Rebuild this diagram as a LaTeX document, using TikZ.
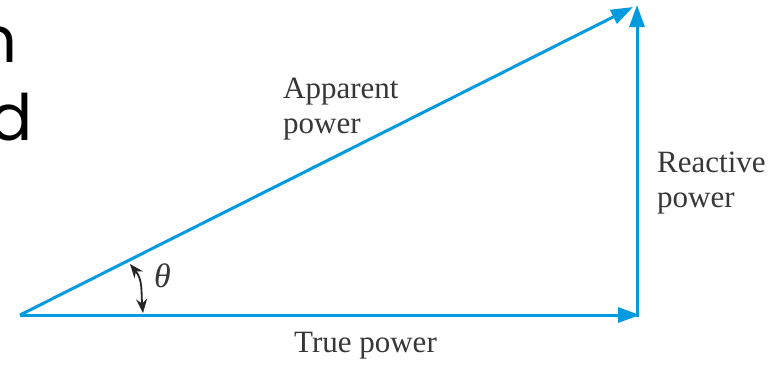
\documentclass[tikz,border=0pt]{standalone}
\usepackage{fontspec}
\setmainfont{Liberation Serif}
\newfontfamily\popfont{Poppins}
\usetikzlibrary{arrows.meta}
\definecolor{vecblue}{RGB}{0,155,222}
\definecolor{labgray}{RGB}{55,55,55}
\begin{document}
\begin{tikzpicture}[x=1pt,y=-1pt,
  vec/.style={draw=vecblue,line width=3pt,-{Triangle[length=22pt,width=15pt]}},
  anglearr/.style={draw=black!85,line width=1.8pt,{Stealth[length=14pt,width=11pt]}-{Stealth[length=14pt,width=11pt]}},
  lab/.style={inner sep=0pt,text=labgray,font=\fontsize{31}{35}\selectfont,align=left},
  big/.style={inner sep=0pt,text=black,font=\popfont\fontsize{64}{64}\selectfont}]
\useasboundingbox (0,0) rectangle (780,368);
\clip (0,0) rectangle (780,368);
\fill[white] (0,0) rectangle (780,368);
\coordinate (O) at (20,315);
\coordinate (B) at (640,315);
\coordinate (C) at (637,316.5);
\coordinate (T) at (637,5);
\coordinate (D) at (633,7);
\coordinate (A1) at (130,264);
\coordinate (A2) at (143,313);
\node[big,anchor=base east] (n) at (18,62) {n};
\node[big,anchor=base east] (d) at (33,140) {d};
\draw[vec] (O) -- (B);
\draw[vec] (C) -- (T);
\draw[vec] (O) -- (D);
\draw[anglearr] (A1) .. controls (143,280) and (141,292) .. (A2);
\node[lab,anchor=base west] (ap) at (283,133) {Apparent\\power};
\node[lab,anchor=base west] (re) at (657,207) {Reactive\\power};
\node[lab,anchor=base west] (tp) at (294,352) {True power};
\node[lab,anchor=base west,font=\fontsize{34}{35}\selectfont] (th) at (154,287) {\textit{θ}};
\end{tikzpicture}
\end{document}
